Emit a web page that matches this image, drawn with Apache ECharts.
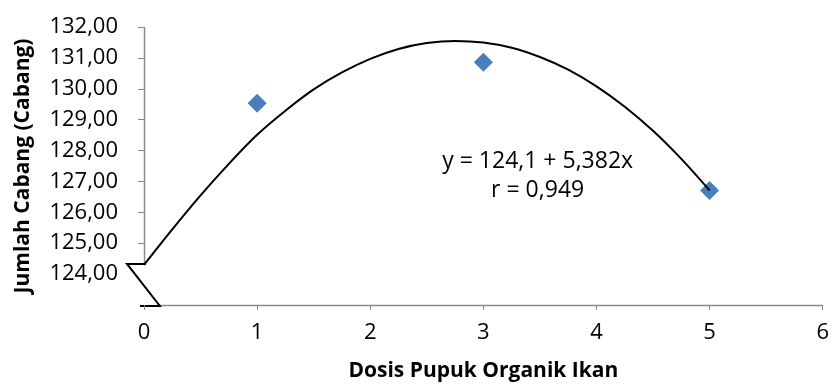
<!DOCTYPE html>
<html lang="id">
<head>
    <meta charset="UTF-8">
    <title>Jumlah Cabang</title>
    <script src="https://cdn.jsdelivr.net/npm/echarts@6/dist/echarts.min.js"></script>
    <style>
        body { margin: 0; background: #fff; }
    </style>
</head>
<body>
<div id="main" style="width: 832px;height:389px;"></div>
<script>
    // data titik pengamatan
    var dosis = [1, 3, 5];
    var cabang = [129.53, 130.86, 126.71];

    // garis tren kuadratik
    var trenX = [0, 0.25, 0.5, 0.75, 1, 1.25, 1.5, 1.75, 2, 2.25, 2.5, 2.75, 3, 3.25, 3.5, 3.75, 4, 4.25, 4.5, 4.75, 5];
    var trenY = [124.3, 125.45, 126.55, 127.57, 128.51, 129.29, 129.98, 130.53, 130.97, 131.29, 131.48, 131.55, 131.5, 131.33, 131.03, 130.62, 130.08, 129.42, 128.64, 127.73, 126.71];

    var yTickLabels = [124, 125, 126, 127, 128, 129, 130, 131, 132];
    var yTicks = [125, 126, 127, 128, 129, 130, 131, 132];
    var persamaan = ['y = 124,1 + 5,382x', 'r = 0,949'];

    var font = 'Open Sans';
    var myChart = echarts.init(document.getElementById('main'));

    var option = {
        animation: false,
        grid: { left: 144, right: 9, top: 27, bottom: 84 },
        xAxis: {
            type: 'value',
            min: 0, max: 6, interval: 1,
            name: 'Dosis Pupuk Organik Ikan',
            nameLocation: 'middle',
            nameGap: 56,
            nameTextStyle: { fontFamily: font, fontSize: 21, fontWeight: 'bold', color: '#000' },
            axisLine: { show: false },
            axisTick: { show: true, length: 5, lineStyle: { color: '#868686' } },
            axisLabel: { margin: 17, fontFamily: font, fontSize: 22, color: '#000' },
            splitLine: { show: false }
        },
        yAxis: {
            type: 'value',
            min: 123, max: 132, interval: 1,
            name: 'Jumlah Cabang (Cabang)',
            nameLocation: 'middle',
            nameGap: 110,
            nameTextStyle: { fontFamily: font, fontSize: 21, fontWeight: 'bold', color: '#000' },
            axisLine: { show: false },
            axisTick: { show: true, length: 6, customValues: yTicks, lineStyle: { color: '#868686' } },
            axisLabel: {
                margin: 26, fontFamily: font, fontSize: 22, color: '#000',
                customValues: yTickLabels,
                formatter: function (v) { return v.toFixed(2).replace('.', ','); }
            },
            splitLine: { show: false }
        },
        series: [
            {
                type: 'line',
                data: trenX.map(function (x, i) { return [x, trenY[i]]; }),
                smooth: 0.3,
                showSymbol: false,
                lineStyle: { color: '#000', width: 2 },
                z: 3
            },
            {
                type: 'scatter',
                data: dosis.map(function (x, i) { return [x, cabang[i]]; }),
                symbol: 'diamond',
                symbolSize: 19,
                itemStyle: { color: '#4a7ebb', opacity: 1 },
                z: 2
            }
        ]
    };
    myChart.setOption(option);

    // sumbu dan tanda patah sumbu
    function px(x, y) { return myChart.convertToPixel({ gridIndex: 0 }, [x, y]); }
    var yAtas = px(0, 132), brk = px(0, 124.33), org = px(0, 123), xEnd = px(6, 123);
    var xStart = px(0.14, 123);
    var abu = { stroke: '#8a8a8a', lineWidth: 1.5 };
    var hitam = { stroke: '#000', lineWidth: 2 };
    var teks = '23px "Open Sans"';
    myChart.setOption({
        graphic: [
            { type: 'line', shape: { x1: yAtas[0] + 0.5, y1: yAtas[1], x2: brk[0] + 0.5, y2: brk[1] }, style: abu },
            { type: 'line', shape: { x1: xStart[0], y1: org[1] + 0.5, x2: xEnd[0], y2: xEnd[1] + 0.5 }, style: abu },
            { type: 'polyline', shape: { points: [[brk[0] + 2, brk[1]], [brk[0] - 17, brk[1]], [xStart[0], org[1] + 1], [org[0] - 4, org[1] + 1]] }, style: hitam },
            {
                type: 'text', x: px(3.48, 0)[0], y: px(0, 127.65)[1],
                style: { text: persamaan[0], font: teks, fill: '#000', textAlign: 'center', textVerticalAlign: 'middle' }
            },
            {
                type: 'text', x: px(3.48, 0)[0], y: px(0, 126.7)[1],
                style: { text: persamaan[1], font: teks, fill: '#000', textAlign: 'center', textVerticalAlign: 'middle' }
            }
        ]
    });
</script>
</body>
</html>
